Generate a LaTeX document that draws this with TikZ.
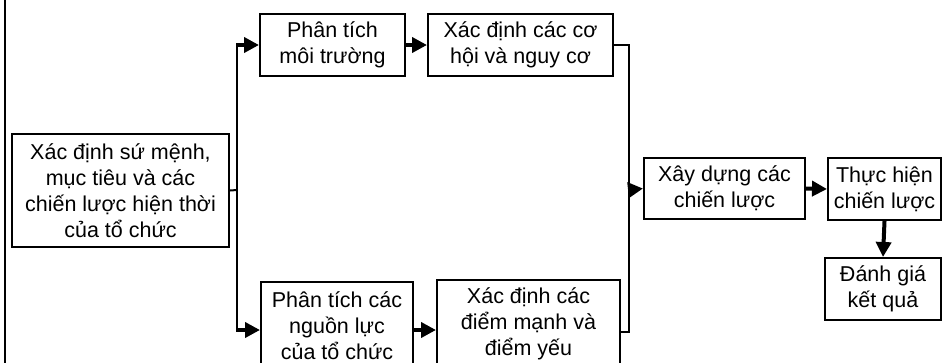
\documentclass[tikz,border=0pt]{standalone}
\usepackage{fontspec}
\setmainfont{Liberation Sans}
\usetikzlibrary{arrows.meta}
\begin{document}
\begin{tikzpicture}[x=1pt,y=-1pt,
  font=\fontsize{21.5}{26}\selectfont,
  box/.style={draw,line width=2pt,align=center,inner sep=0pt},
  link/.style={line width=2pt},
  flow/.style={line width=4pt,-{Triangle[length=15pt,width=15pt]}}]
\useasboundingbox (0,0) rectangle (942,362);

% left frame line
\draw[line width=2.2pt] (5,-2) -- (5,364);

% boxes
\node[box,minimum width=217pt,minimum height=113pt] (b1) at (120.5,190.5)
  {Xác định sứ mệnh,\\mục tiêu và các\\chiến lược hiện thời\\của tổ chức};
\node[box,minimum width=145pt,minimum height=62pt] (b2) at (332.5,45)
  {Phân tích\\môi trường};
\node[box,minimum width=185pt,minimum height=62pt] (b3) at (520.5,45)
  {Xác định các cơ\\hội và nguy cơ};
\node[box,minimum width=152pt,minimum height=88pt] (b4) at (337,326)
  {Phân tích các\\nguồn lực\\của tổ chức};
\node[box,minimum width=183pt,minimum height=88pt] (b5) at (528.5,324)
  {Xác định các\\điểm mạnh và\\điểm yếu};
\node[box,minimum width=161pt,minimum height=61pt] (b6) at (724.5,188.5)
  {Xây dựng các\\chiến lược};
\node[box,minimum width=113pt,minimum height=62pt] (b7) at (884.5,189)
  {Thực hiện\\chiến lược};
\node[box,minimum width=116pt,minimum height=62pt] (b8) at (883,289)
  {Đánh giá\\kết quả};

% fork and merge points
\coordinate (fork) at (237,190);
\coordinate (merge) at (629,190);

% connectors
\draw[link] (b1.east) -- (fork);
\draw[link] (fork) -- (fork |- 0,44);
\draw[link] (fork) -- (fork |- 0,332);
\draw[flow] ([xshift=-1pt]fork |- b2.west) -- (b2.west);
\draw[flow] ([xshift=-1pt]fork |- 0,330) -- (b4.west |- 0,330);
\draw[flow] (b2.east) -- (b3.west);
\draw[flow] (b4.east |- 0,330) -- (b5.west |- 0,330);
\draw[link] (b3.east) -| (merge);
\draw[link] (b5.east |- 0,332) -| (merge);
\draw[flow] (merge) -- (b6.west);
\draw[flow] (b6.east) -- (b7.west);
\draw[flow] (b7.south) -- (b8.north);
\end{tikzpicture}
\end{document}
